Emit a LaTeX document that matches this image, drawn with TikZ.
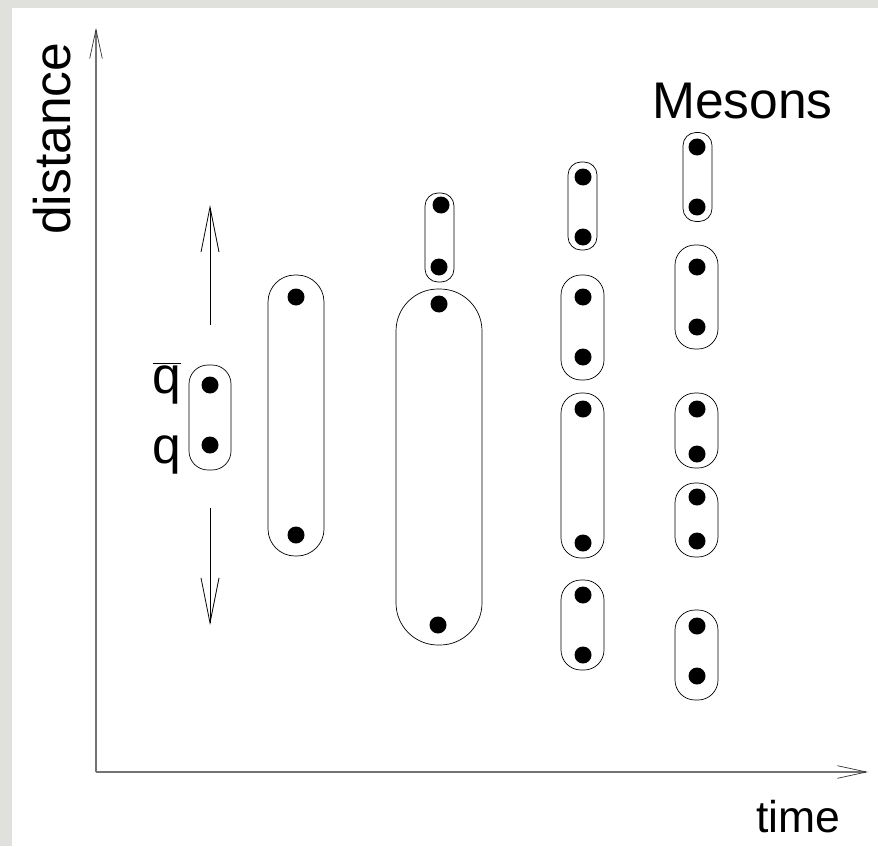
\documentclass[tikz,border=0pt]{standalone}
\usepackage{fontspec}
\setmainfont{Liberation Sans}
\usepackage{tikz}
\usetikzlibrary{arrows.meta, positioning}
\newcommand{\pix}{0.03cm}
\definecolor{marble}{RGB}{224,224,220}
\tikzstyle{meson} = [rectangle, draw=black, line width=0.6pt, inner sep=0pt]
\tikzstyle{quark} = [circle, fill=black, inner sep=0pt, minimum size=17*\pix]
\tikzstyle{axis} = [draw=black!55, line width=1.1pt, -{Straight Barb[length=0.87cm, width=0.38cm, line width=0.6pt, color=black!80]}]
\tikzstyle{arrow} = [draw=black, line width=0.7pt, -{Straight Barb[length=1.35cm, width=0.54cm]}]
\tikzstyle{txt} = [inner sep=0pt]

\begin{document}
\begin{tikzpicture}[x=\pix, y=-\pix, font=\fontsize{44}{50}\selectfont]
    \useasboundingbox (0,0) rectangle (878,846);
    \fill[marble] (0,0) rectangle (878,846);
    \fill[white] (12,8) rectangle (878,846);

    \coordinate (origin) at (96,772);
    \coordinate (ytip) at (96,28);
    \coordinate (xtip) at (868,772);
    \draw [axis] (origin) -- (ytip);
    \draw [axis] (origin) -- (xtip);
    \node (distance) [txt, rotate=90, anchor=base west] at (70,235) {distance};
    \node (time) [txt, anchor=base west, font=\fontsize{38}{44}\selectfont] at (756,832) {time};
    \node (mesons) [txt, anchor=base west] at (652,119) {Mesons};

    \node (qbar) [txt, anchor=base] at (167,393) {$\overline{\mbox{q}}$};
    \node (q) [txt, anchor=base] at (167,463) {q};

    \coordinate (upfrom) at (210,325);
    \coordinate (upto) at (210,205);
    \coordinate (downfrom) at (210,508);
    \coordinate (downto) at (210,625);
    \draw [arrow] (upfrom) -- (upto);
    \draw [arrow] (downfrom) -- (downto);

    \node (m1) [meson, minimum width=42*\pix, minimum height=105*\pix, rounded corners=19*\pix] at (210,417.5) {};
    \node (m2) [meson, minimum width=56*\pix, minimum height=281*\pix, rounded corners=27*\pix] at (296,415.5) {};
    \node (m3a) [meson, minimum width=29*\pix, minimum height=89*\pix, rounded corners=13*\pix] at (439.5,237.5) {};
    \node (m3b) [meson, minimum width=86*\pix, minimum height=356*\pix, rounded corners=42*\pix] at (439,467) {};
    \node (m4a) [meson, minimum width=29*\pix, minimum height=88*\pix, rounded corners=13*\pix] at (582.5,206) {};
    \node (m4b) [meson, minimum width=43*\pix, minimum height=105*\pix, rounded corners=20*\pix] at (582.5,327.5) {};
    \node (m4c) [meson, minimum width=43*\pix, minimum height=165*\pix, rounded corners=20*\pix] at (582.5,475.5) {};
    \node (m4d) [meson, minimum width=43*\pix, minimum height=90*\pix, rounded corners=20*\pix] at (582.5,625) {};
    \node (m5a) [meson, minimum width=29*\pix, minimum height=89*\pix, rounded corners=13*\pix] at (697.5,177) {};
    \node (m5b) [meson, minimum width=43*\pix, minimum height=104*\pix, rounded corners=20*\pix] at (696.5,297) {};
    \node (m5c) [meson, minimum width=43*\pix, minimum height=75*\pix, rounded corners=20*\pix] at (696.5,430.5) {};
    \node (m5d) [meson, minimum width=43*\pix, minimum height=74*\pix, rounded corners=20*\pix] at (696.5,520) {};
    \node (m5e) [meson, minimum width=43*\pix, minimum height=90*\pix, rounded corners=20*\pix] at (696.5,655) {};

    \node (q1a) [quark] at (210,385) {};
    \node (q1b) [quark] at (210,445) {};
    \node (q2a) [quark] at (296,297) {};
    \node (q2b) [quark] at (296,535) {};
    \node (q3a) [quark] at (441,205) {};
    \node (q3b) [quark] at (439,267) {};
    \node (q3c) [quark] at (439,304) {};
    \node (q3d) [quark] at (438,625) {};
    \node (q4a) [quark] at (583,177) {};
    \node (q4b) [quark] at (583,237) {};
    \node (q4c) [quark] at (583,297) {};
    \node (q4d) [quark] at (583,357) {};
    \node (q4e) [quark] at (583,409) {};
    \node (q4f) [quark] at (583,543) {};
    \node (q4g) [quark] at (583,595) {};
    \node (q4h) [quark] at (583,655) {};
    \node (q5a) [quark] at (697,147) {};
    \node (q5b) [quark] at (697,207) {};
    \node (q5c) [quark] at (697,267) {};
    \node (q5d) [quark] at (697,327) {};
    \node (q5e) [quark] at (697,409) {};
    \node (q5f) [quark] at (697,454) {};
    \node (q5g) [quark] at (697,497) {};
    \node (q5h) [quark] at (697,541) {};
    \node (q5i) [quark] at (697,626) {};
    \node (q5j) [quark] at (697,676) {};
\end{tikzpicture}
\end{document}
